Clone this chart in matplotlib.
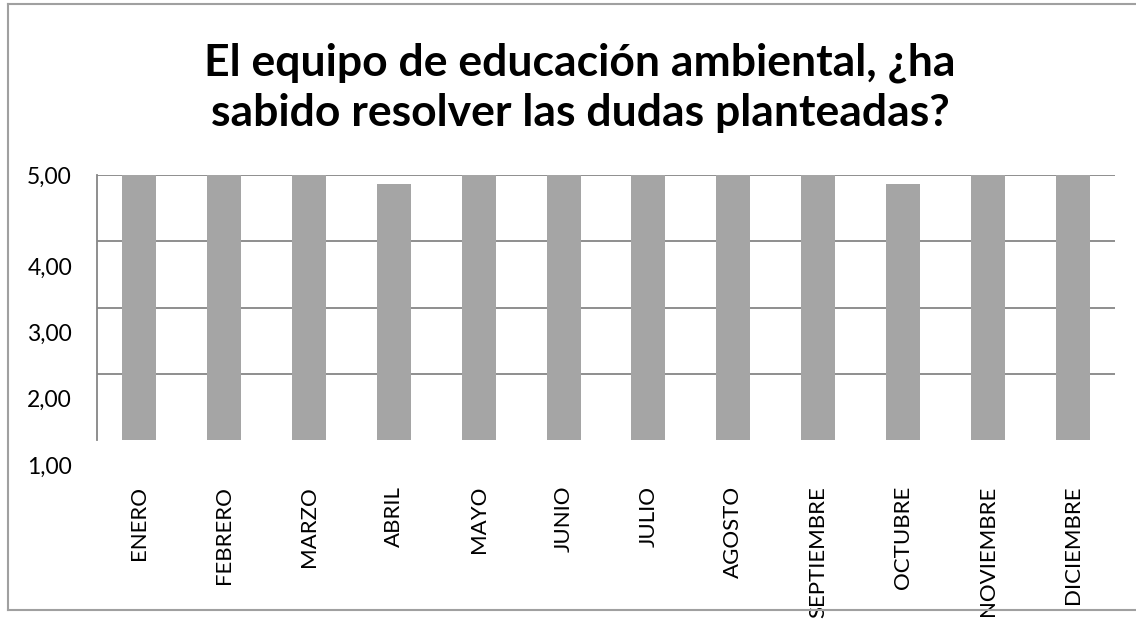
import matplotlib
matplotlib.use("Agg")
import matplotlib.pyplot as plt
import matplotlib.transforms as mtransforms
from matplotlib.lines import Line2D

plt.rcParams['font.family'] = ['Lato', 'DejaVu Sans']

months = ["ENERO", "FEBRERO", "MARZO", "ABRIL", "MAYO", "JUNIO",
          "JULIO", "AGOSTO", "SEPTIEMBRE", "OCTUBRE", "NOVIEMBRE", "DICIEMBRE"]
scores = [5.00, 5.00, 5.00, 4.86, 5.00, 5.00, 5.00, 5.00, 5.00, 4.86, 5.00, 5.00]
y_ticks = [1, 2, 3, 4, 5]
y_labels = ["1,00", "2,00", "3,00", "4,00", "5,00"]
title = "El equipo de educación ambiental, ¿ha\nsabido resolver las dudas planteadas?"

W, H = 1136, 619
fig = plt.figure(figsize=(W / 100, H / 100), dpi=100)
ax = fig.add_axes([97 / W, 1 - 440 / H, (1115 - 97) / W, (440 - 175) / H])

grid_col = "#868686"
x = list(range(len(months)))
ax.bar(x, scores, width=0.4, bottom=0, color="#a5a5a5", zorder=3)
ax.set_xlim(-0.5, len(months) - 0.5)
ax.set_ylim(1, 5)

ax.set_yticks(y_ticks)
ax.set_yticklabels(y_labels, fontsize=16.5)
ax.tick_params(axis="y", length=0, pad=18)
ax.yaxis.grid(True, color=grid_col, linewidth=1.3, zorder=0)
ax.yaxis.get_gridlines()[0].set_visible(False)

# Excel placed the lower labels somewhat below their gridlines
shift = mtransforms.ScaledTranslation(0, -0.25, fig.dpi_scale_trans)
for lab in ax.get_yticklabels():
    if lab.get_text() != "5,00":
        lab.set_transform(lab.get_transform() + shift)

ax.set_xticks(x)
ax.set_xticklabels(months, rotation=90, fontsize=16, va="top", ha="center")
ax.tick_params(axis="x", length=0, pad=33)

for side in ["top", "right", "bottom"]:
    ax.spines[side].set_visible(False)
ax.spines["left"].set_color(grid_col)
ax.spines["left"].set_linewidth(1.3)

fig.text(580 / W, 1 - 88 / H, title, ha="center", va="center",
         fontsize=32, fontweight="bold", linespacing=1.3)

# outer chart frame (left, top, bottom only)
frame_col = "#a0a0a0"
fx0, fx1, fy0, fy1 = 8 / W, 1.0, 1 - 4 / H, 1 - 610 / H
for xs, ys in [([fx0, fx0], [fy0, fy1]), ([fx0, fx1], [fy0, fy0]), ([fx0, fx1], [fy1, fy1])]:
    fig.add_artist(Line2D(xs, ys, color=frame_col, linewidth=1.5, transform=fig.transFigure))

fig.savefig("out.png", dpi=100)
